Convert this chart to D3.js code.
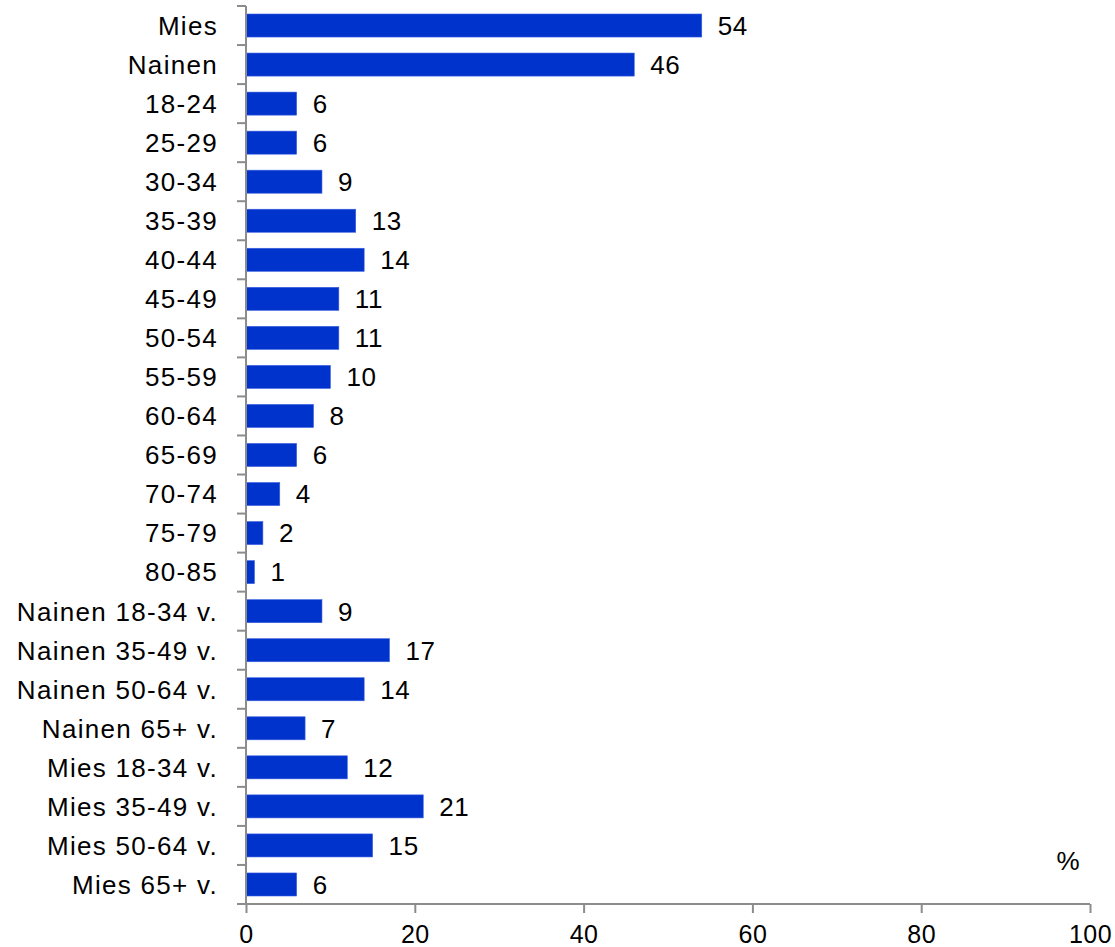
<!DOCTYPE html>
<html>
<head>
<meta charset="utf-8">
<script src="https://cdn.jsdelivr.net/npm/d3@7"></script>
<style>
  body { margin: 0; background: #fff; }
  text { font-family: "Liberation Sans", Arial, sans-serif; fill: #000; }
</style>
</head>
<body>
<div id="app"></div>
<script>
const categories = ["Mies", "Nainen", "18-24", "25-29", "30-34", "35-39", "40-44", "45-49",
  "50-54", "55-59", "60-64", "65-69", "70-74", "75-79", "80-85",
  "Nainen 18-34 v.", "Nainen 35-49 v.", "Nainen 50-64 v.", "Nainen 65+ v.",
  "Mies 18-34 v.", "Mies 35-49 v.", "Mies 50-64 v.", "Mies 65+ v."];
const values = [54, 46, 6, 6, 9, 13, 14, 11, 11, 10, 8, 6, 4, 2, 1, 9, 17, 14, 7, 12, 21, 15, 6];
const xTicks = [0, 20, 40, 60, 80, 100];
const unitLabel = "%";

const width = 1115, height = 947;
const plotLeft = 246, plotRight = 1090, plotTop = 6, plotBottom = 904;

const svg = d3.select("#app").append("svg")
  .attr("width", width).attr("height", height);

const x = d3.scaleLinear().domain([0, 100]).range([plotLeft, plotRight]);
const y = d3.scaleBand().domain(categories).range([plotTop, plotBottom]).paddingInner(0.41).paddingOuter(0.205);
const yTicks = d3.scaleBand().domain(categories).range([plotTop, plotBottom]);

// bars
svg.selectAll("rect.bar")
  .data(values)
  .enter()
  .append("rect")
  .attr("class", "bar")
  .attr("x", x(0))
  .attr("y", (d, i) => y(categories[i]))
  .attr("width", d => x(d) - x(0))
  .attr("height", y.bandwidth())
  .attr("fill", "#0033cc")
  .attr("stroke", "#3a5fe0")
  .attr("stroke-width", 0.6);

// value labels
svg.selectAll("text.val")
  .data(values)
  .enter()
  .append("text")
  .attr("class", "val")
  .attr("x", d => x(d) + 16)
  .attr("y", (d, i) => y(categories[i]) + y.bandwidth() / 2)
  .attr("dy", "0.36em")
  .attr("font-size", 26)
  .attr("letter-spacing", 0.6)
  .text(d => d);

// left axis: ticks at band boundaries
const axisColor = "#8c8c8c";
const ly = svg.append("g");
ly.append("line")
  .attr("x1", plotLeft).attr("x2", plotLeft)
  .attr("y1", plotTop).attr("y2", plotBottom)
  .attr("stroke", axisColor).attr("stroke-width", 2);
const bounds = categories.map(c => yTicks(c)).concat([plotBottom]);
ly.selectAll("line.t")
  .data(bounds)
  .enter()
  .append("line")
  .attr("class", "t")
  .attr("x1", plotLeft - 9).attr("x2", plotLeft)
  .attr("y1", d => d).attr("y2", d => d)
  .attr("stroke", axisColor).attr("stroke-width", 2);

ly.selectAll("text.cat")
  .data(categories)
  .enter()
  .append("text")
  .attr("class", "cat")
  .attr("x", 218)
  .attr("y", d => yTicks(d) + yTicks.bandwidth() / 2)
  .attr("dy", "0.36em")
  .attr("text-anchor", "end")
  .attr("font-size", 26)
  .attr("letter-spacing", 1.3)
  .text(d => d);

// bottom axis
const xAxis = d3.axisBottom(x).tickValues(xTicks).tickSize(9).tickPadding(12);
const gx = svg.append("g")
  .attr("transform", `translate(0,${plotBottom})`)
  .call(xAxis);
gx.select(".domain").attr("stroke", axisColor).attr("stroke-width", 2)
  .attr("d", `M${plotLeft - 9},0H${plotRight}`);
gx.selectAll(".tick line").attr("stroke", axisColor).attr("stroke-width", 2);
gx.selectAll(".tick text")
  .attr("font-size", 25)
  .attr("letter-spacing", 0.5)
  .attr("font-family", "Liberation Sans, Arial, sans-serif")
  .attr("fill", "#000");

svg.append("text")
  .attr("x", 1068)
  .attr("y", 870)
  .attr("text-anchor", "middle")
  .attr("font-size", 26)
  .text(unitLabel);
</script>
</body>
</html>
